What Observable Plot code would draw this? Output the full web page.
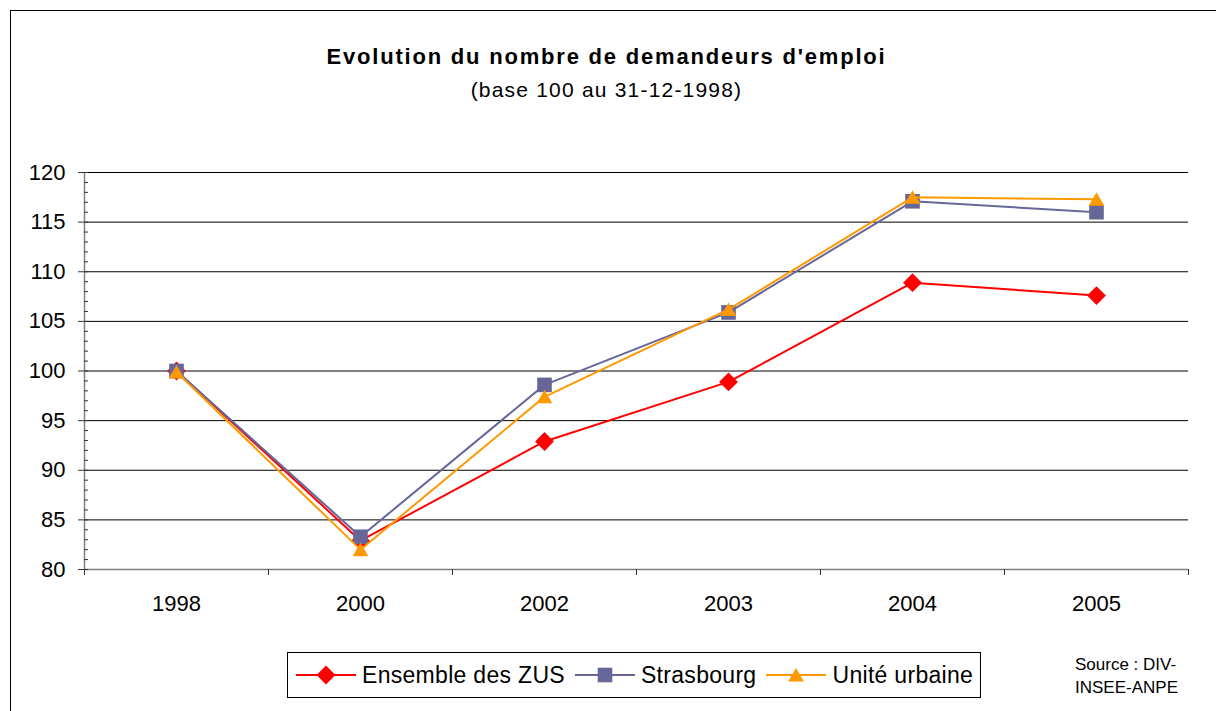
<!DOCTYPE html>
<html>
<head>
<meta charset="utf-8">
<script src="https://cdn.jsdelivr.net/npm/d3@7"></script>
<script src="https://cdn.jsdelivr.net/npm/@observablehq/plot@0.6"></script>
<style>
  html, body { margin: 0; padding: 0; background: #fff; }
  #root { position: relative; width: 1216px; height: 711px; overflow: hidden; font-family: "Liberation Sans", Arial, sans-serif; color: #000; }
  #frame { position: absolute; left: 10px; top: 10px; width: 1300px; height: 800px; border-left: 1px solid #000; border-top: 1px solid #000; }
  #chart { position: absolute; left: 0; top: 0; }
  #title { position: absolute; left: 0; width: 1213px; top: 44px; text-align: center; font-weight: bold; font-size: 22px; letter-spacing: 1.8px; }
  #subtitle { position: absolute; left: 0; width: 1213px; top: 78px; text-align: center; font-size: 21px; letter-spacing: 1.2px; }
  #legend { position: absolute; left: 287px; top: 652px; width: 694px; height: 46px; border: 1px solid #000; box-sizing: border-box; display: flex; align-items: center; padding-left: 8px; font-size: 23px; letter-spacing: 0.3px; white-space: nowrap; overflow: visible; }
  .item { display: flex; align-items: center; margin-right: 10px; flex-shrink: 0; white-space: nowrap; }
  .item svg { margin-right: 6px; flex-shrink: 0; }
  #source { position: absolute; left: 1075px; top: 653px; font-size: 17px; line-height: 23px; white-space: nowrap; }
</style>
</head>
<body>
<div id="root">
  <div id="frame"></div>
  <div id="chart"></div>
  <div id="title">Evolution du nombre de demandeurs d'emploi</div>
  <div id="subtitle">(base 100 au 31-12-1998)</div>
  <div id="legend"></div>
  <div id="source">Source : DIV-<br>INSEE-ANPE</div>
</div>
<script>
const years = ["1998", "2000", "2002", "2003", "2004", "2005"];
const seriesNames = ["Ensemble des ZUS", "Strasbourg", "Unité urbaine"];
const zus = [100, 82.9, 92.9, 98.9, 108.9, 107.6];
const strasbourg = [100, 83.3, 98.6, 105.9, 117.1, 116.0];
const uniteUrbaine = [99.9, 82.0, 97.4, 106.2, 117.5, 117.3];
const yTicks = [80, 85, 90, 95, 100, 105, 110, 115, 120];
const yMinorTicks = d3.range(80, 121, 1);
const colors = ["#FF0000", "#666699", "#FF9900"];
const symbols = ["diamond2", "square2", "triangle2"];
const radii = [8.5, 9.3, 7.5];

const seriesValues = [zus, strasbourg, uniteUrbaine];
const idx = years.map((_, i) => i);
const bounds = d3.range(-0.5, years.length, 1);

const marks = [
  Plot.ruleY(yTicks.slice(1), {stroke: "#000", strokeWidth: 1}),
  Plot.ruleY([80], {stroke: "#808080", strokeWidth: 1.5}),
  Plot.ruleX([-0.5], {stroke: "#808080", strokeWidth: 1.5}),
  Plot.axisY(yMinorTicks, {label: null, tickSize: 4, dx: 4, tickFormat: () => "", stroke: "#333"}),
  Plot.axisY(yTicks, {label: null, tickSize: 6, tickPadding: 13, fontSize: 22, stroke: "#333", fill: "#000"}),
  Plot.axisX(bounds, {label: null, tickSize: 6, tickFormat: () => "", stroke: "#333"}),
  Plot.axisX(idx, {label: null, tickSize: 0, tickPadding: 26, fontSize: 22, tickFormat: i => years[i], fill: "#000"})
];
seriesValues.forEach((vals, s) => {
  const data = idx.map(i => ({x: i, y: vals[i]}));
  marks.push(Plot.line(data, {x: "x", y: "y", stroke: colors[s], strokeWidth: 2}));
  marks.push(Plot.dot(data, {x: "x", y: "y", fill: colors[s], symbol: symbols[s], r: radii[s], dy: s === 2 ? 2 : 0}));
});

const plot = Plot.plot({
  width: 1216,
  height: 711,
  marginLeft: 84,
  marginRight: 28,
  marginTop: 172,
  marginBottom: 142,
  style: {background: "transparent", fontFamily: "Liberation Sans, Arial, sans-serif", fontSize: "22px"},
  x: {type: "linear", domain: [-0.5, years.length - 0.5], axis: null},
  y: {domain: [80, 120], axis: null},
  marks
});
document.getElementById("chart").appendChild(plot);

// legend
const legend = document.getElementById("legend");
seriesNames.forEach((name, s) => {
  const item = document.createElement("div");
  item.className = "item";
  const sym = {diamond2: d3.symbolDiamond2, square2: d3.symbolSquare2, triangle2: d3.symbolTriangle2}[symbols[s]];
  const r = radii[s];
  const path = d3.symbol(sym, r * r * Math.PI)();
  item.innerHTML = `<svg width="60" height="24" viewBox="0 0 60 24"><line x1="0" x2="60" y1="12" y2="12" stroke="${colors[s]}" stroke-width="2"/><path transform="translate(30,${s === 2 ? 14 : 12})" d="${path}" fill="${colors[s]}"/></svg><span>${name}</span>`;
  legend.appendChild(item);
});
</script>
</body>
</html>
